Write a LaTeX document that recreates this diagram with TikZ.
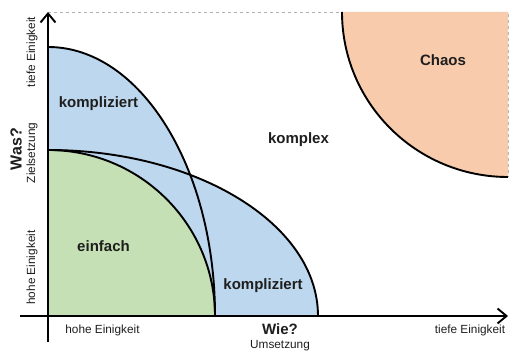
\documentclass[tikz,border=0pt]{standalone}
\usepackage{fontspec}
\setmainfont{Liberation Sans}
\usetikzlibrary{arrows.meta}
\definecolor{kblue}{RGB}{189,215,238}
\definecolor{kgreen}{RGB}{197,224,180}
\definecolor{korange}{RGB}{248,203,173}
\definecolor{ktext}{RGB}{30,30,30}
\tikzset{
  axis/.style={line width=1.9pt, black, -{Straight Barb[length=9pt,width=15pt,line width=1.9pt]}},
  rim/.style={line width=1.9pt, black},
  frame/.style={gray!60, dashed, line width=0.6pt},
  big/.style={font=\fontsize{15}{18}\selectfont\bfseries, text=ktext},
  small/.style={font=\fontsize{11.8}{14}\selectfont, text=ktext},
}
\begin{document}
\begin{tikzpicture}[x=1pt,y=1pt]
\useasboundingbox (0,0) rectangle (509,353);
% origin of the two axes
\coordinate (O) at (48,37);
\coordinate (corner) at (508,341);

% outer frame (top and right edge of the field)
\draw[frame] (48,341) -- (corner) -- (508,176);

% Chaos: quarter ellipse hanging from the upper right corner
\fill[korange] (corner) -- (342,341) arc[start angle=180, end angle=270, x radius=166, y radius=165] -- cycle;
\draw[rim] (342,341) arc[start angle=180, end angle=270, x radius=166, y radius=165];

% kompliziert: wide and tall quarter ellipses
\fill[kblue] (O) -- (48,203) arc[start angle=90, end angle=0, x radius=270, y radius=166] -- cycle;
\fill[kblue] (O) -- (48,306) arc[start angle=90, end angle=0, x radius=167, y radius=269] -- cycle;
% einfach: inner quarter ellipse
\fill[kgreen] (O) -- (48,203) arc[start angle=90, end angle=0, x radius=167, y radius=166] -- cycle;

% outlines of the three regions
\draw[rim] (48,203) arc[start angle=90, end angle=0, x radius=270, y radius=166];
\draw[rim] (48,306) arc[start angle=90, end angle=0, x radius=167, y radius=269];
\draw[rim] (48,203) arc[start angle=90, end angle=0, x radius=167, y radius=166];

% axes
\coordinate (xstart) at (20,37);
\coordinate (xend) at (508,37);
\coordinate (ystart) at (48,11);
\coordinate (yend) at (48,341);
\draw[axis] (xstart) -- (xend);
\draw[axis] (ystart) -- (yend);

% region labels
\node[big] (k1) at (98.5,249) {kompliziert};
\node[big] (k2) at (263,67.5) {kompliziert};
\node[big] (kx) at (298.5,213) {komplex};
\node[big] (ef) at (103.5,106.5) {einfach};
\node[big] (ch) at (443,292.5) {Chaos};

% horizontal axis labels
\node[small] (xl) at (102.5,23) {hohe Einigkeit};
\node[small] (xr) at (470,22.5) {tiefe Einigkeit};
\node[font=\fontsize{15}{18}\selectfont\bfseries, text=ktext] (wie) at (280,24) {Wie?};
\node[small] (ums) at (280,7.5) {Umsetzung};

% vertical axis labels
\node[small, rotate=90] (yt) at (32,301) {tiefe Einigkeit};
\node[small, rotate=90] (yb) at (32,85.5) {hohe Einigkeit};
\node[small, rotate=90] (zs) at (32,200) {Zielsetzung};
\node[font=\fontsize{16}{19}\selectfont\bfseries, text=ktext, rotate=90] (was) at (16,204) {Was?};
\end{tikzpicture}
\end{document}
